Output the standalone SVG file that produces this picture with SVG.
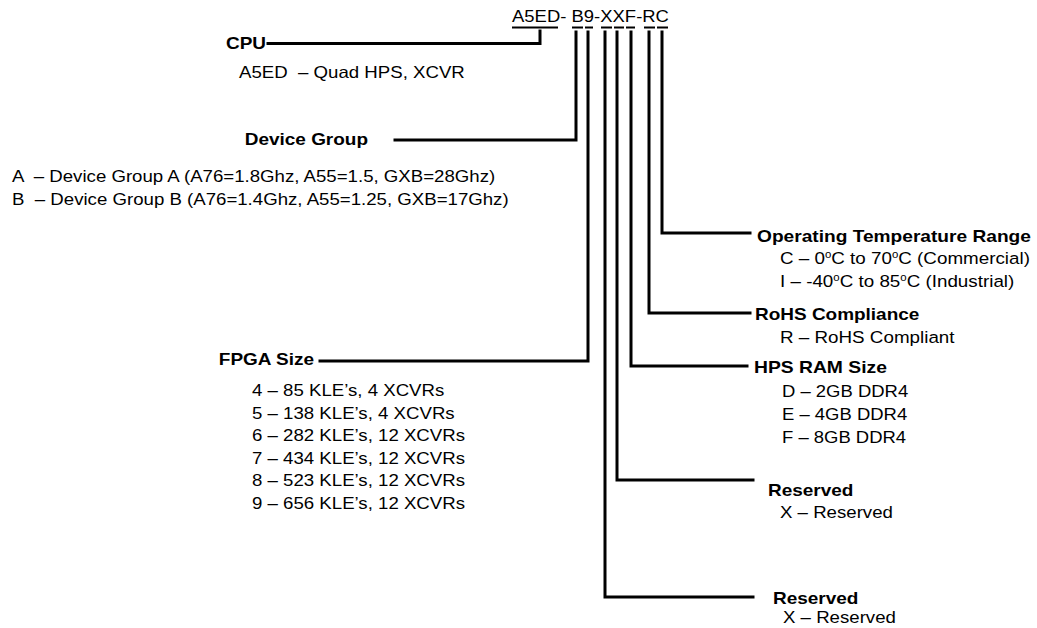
<svg xmlns="http://www.w3.org/2000/svg" width="1037" height="628" viewBox="0 0 1037 628">
<style>
.t{font-family:"Liberation Sans",Arial,Helvetica,sans-serif;font-size:16.5px;fill:#000;white-space:pre}
.b{font-weight:bold}
.c{fill:none;stroke:#000;stroke-width:3;stroke-linecap:square;stroke-linejoin:miter}
.u{fill:none;stroke:#000;stroke-width:2}
</style>
<rect width="1037" height="628" fill="#fff"/>
<g id="title">
<text class="t" transform="translate(512,21.5) scale(1.12,1)">A5ED- B9-XXF-RC</text>
<path class="u" d="M512 27.5H558M572 27.5H583M585 27.5H593M601 27.5H612M614 27.5H624M626 27.5H635M644 27.5H655M657 27.5H668"/>
</g>
<g id="cpu">
<text class="t b" text-anchor="end" transform="translate(266,48.5) scale(1.15,1)">CPU</text>
<text class="t" transform="translate(239,78) scale(1.13,1)" xml:space="preserve">A5ED  – Quad HPS, XCVR</text>
</g>
<g id="device-group">
<text class="t b" text-anchor="end" transform="translate(368,145) scale(1.15,1)">Device Group</text>
<text class="t" transform="translate(12,182) scale(1.13,1)" xml:space="preserve">A  – Device Group A (A76=1.8Ghz, A55=1.5, GXB=28Ghz)</text>
<text class="t" transform="translate(12,204.5) scale(1.13,1)" xml:space="preserve">B  – Device Group B (A76=1.4Ghz, A55=1.25, GXB=17Ghz)</text>
</g>
<g id="fpga-size">
<text class="t b" text-anchor="end" transform="translate(314,365) scale(1.15,1)">FPGA Size</text>
<text class="t" transform="translate(252,396) scale(1.13,1)">4 – 85 KLE’s, 4 XCVRs</text>
<text class="t" transform="translate(252,418.5) scale(1.13,1)">5 – 138 KLE’s, 4 XCVRs</text>
<text class="t" transform="translate(252,441) scale(1.13,1)">6 – 282 KLE’s, 12 XCVRs</text>
<text class="t" transform="translate(252,463.5) scale(1.13,1)">7 – 434 KLE’s, 12 XCVRs</text>
<text class="t" transform="translate(252,486) scale(1.13,1)">8 – 523 KLE’s, 12 XCVRs</text>
<text class="t" transform="translate(252,508.5) scale(1.13,1)">9 – 656 KLE’s, 12 XCVRs</text>
</g>
<g id="op-temp">
<text class="t b" transform="translate(757,241.5) scale(1.16,1)">Operating Temperature Range</text>
<text class="t" transform="translate(780,263.5) scale(1.14,1)">C – 0<tspan dy="-6" font-size="10">o</tspan><tspan dy="6">C to 70</tspan><tspan dy="-6" font-size="10">o</tspan><tspan dy="6">C (Commercial)</tspan></text>
<text class="t" transform="translate(780,287) scale(1.14,1)">I – -40<tspan dy="-6" font-size="10">o</tspan><tspan dy="6">C to 85</tspan><tspan dy="-6" font-size="10">o</tspan><tspan dy="6">C (Industrial)</tspan></text>
</g>
<g id="rohs">
<text class="t b" transform="translate(755,320) scale(1.15,1)">RoHS Compliance</text>
<text class="t" transform="translate(780,342.5) scale(1.14,1)">R – RoHS Compliant</text>
</g>
<g id="hps-ram">
<text class="t b" transform="translate(754,373) scale(1.17,1)">HPS RAM Size</text>
<text class="t" transform="translate(782,396.5) scale(1.12,1)">D – 2GB DDR4</text>
<text class="t" transform="translate(782,419.5) scale(1.12,1)">E – 4GB DDR4</text>
<text class="t" transform="translate(782,442.5) scale(1.12,1)">F – 8GB DDR4</text>
</g>
<g id="reserved-1">
<text class="t b" transform="translate(768,495.5) scale(1.15,1)">Reserved</text>
<text class="t" transform="translate(780,518) scale(1.13,1)">X – Reserved</text>
</g>
<g id="reserved-2">
<text class="t b" transform="translate(773,603.5) scale(1.15,1)">Reserved</text>
<text class="t" transform="translate(783,623) scale(1.13,1)">X – Reserved</text>
</g>
<g id="connectors">
<path class="c" d="M268 43.5H540V31"/>
<path class="c" d="M395 140H576V32"/>
<path class="c" d="M320 361H588V32"/>
<path class="c" d="M753 597H605V32"/>
<path class="c" d="M753 480H617V32"/>
<path class="c" d="M747 366H631V32"/>
<path class="c" d="M750 313H649V32"/>
<path class="c" d="M750 233H662V32"/>
</g>
</svg>
